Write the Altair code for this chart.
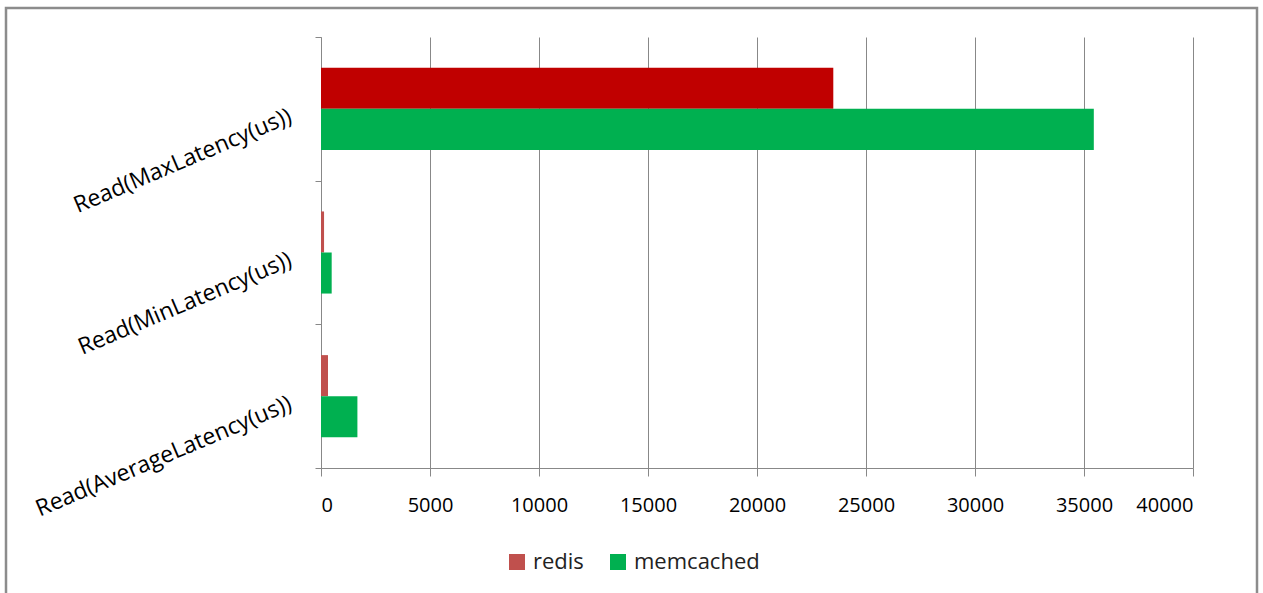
import altair as alt
import pandas as pd

categories = ["Read(MaxLatency(us))", "Read(MinLatency(us))", "Read(AverageLatency(us))"]
series = ["redis", "memcached"]
redis_values = [23500, 140, 320]
memcached_values = [35450, 490, 1670]

rows = []
for c, r, m in zip(categories, redis_values, memcached_values):
    rows.append({"category": c, "series": "redis", "value": r})
    rows.append({"category": c, "series": "memcached", "value": m})
df = pd.DataFrame(rows)

FONT = "Open Sans"

bars = alt.Chart(df).mark_bar().encode(
    y=alt.Y("category:N", sort=categories,
            scale=alt.Scale(paddingInner=0, paddingOuter=0),
            axis=alt.Axis(title=None, labelAngle=337, labelFontSize=23, labelFont=FONT,
                          labelColor="#000000", labelPadding=25, labelAlign="right",
                          labelBaseline="middle", labelLimit=500, labelOffset=6,
                          domainColor="#888888", tickColor="#888888", tickSize=6,
                          tickBand="extent", grid=False)),
    yOffset=alt.YOffset("series:N", sort=series,
                        scale=alt.Scale(domain=series, paddingInner=0, paddingOuter=0.75)),
    x=alt.X("value:Q", scale=alt.Scale(domain=[0, 40000], nice=False),
            axis=alt.Axis(title=None, values=list(range(0, 40001, 5000)), format="d",
                          labelFontSize=20, labelFont=FONT, labelColor="#000000",
                          labelPadding=19, domainColor="#888888", tickColor="#888888",
                          tickSize=8, gridColor="#888888", gridWidth=1)),
    color=alt.condition(
        (alt.datum.series == "redis") & (alt.datum.category == "Read(MaxLatency(us))"),
        alt.value("#C00000"),
        alt.Color("series:N", sort=series,
                  scale=alt.Scale(domain=series, range=["#C0504D", "#00B050"]),
                  legend=alt.Legend(title=None, orient="none", direction="horizontal",
                                    legendX=185, legendY=514, symbolType="square",
                                    symbolSize=256, symbolStrokeWidth=0,
                                    labelFontSize=22, labelFont=FONT,
                                    labelColor="#222222", columnPadding=23,
                                    labelOffset=5)),
    ),
)

frame = alt.Chart(pd.DataFrame({"a": [0]})).mark_rect(
    fill=None, stroke="#8c8c8c", strokeWidth=2.5
).encode(
    x=alt.value(-315), x2=alt.value(936), y=alt.value(-29), y2=alt.value(570)
)

chart = alt.layer(frame, bars).properties(
    width=872, height=431,
    background="white",
    autosize=alt.AutoSizeParams(type="none"),
    padding={"left": 321, "top": 37, "right": 70, "bottom": 125},
).configure_view(strokeWidth=0, stroke=None)

chart.save("out.html", embed_options={"renderer": "svg", "actions": False})
